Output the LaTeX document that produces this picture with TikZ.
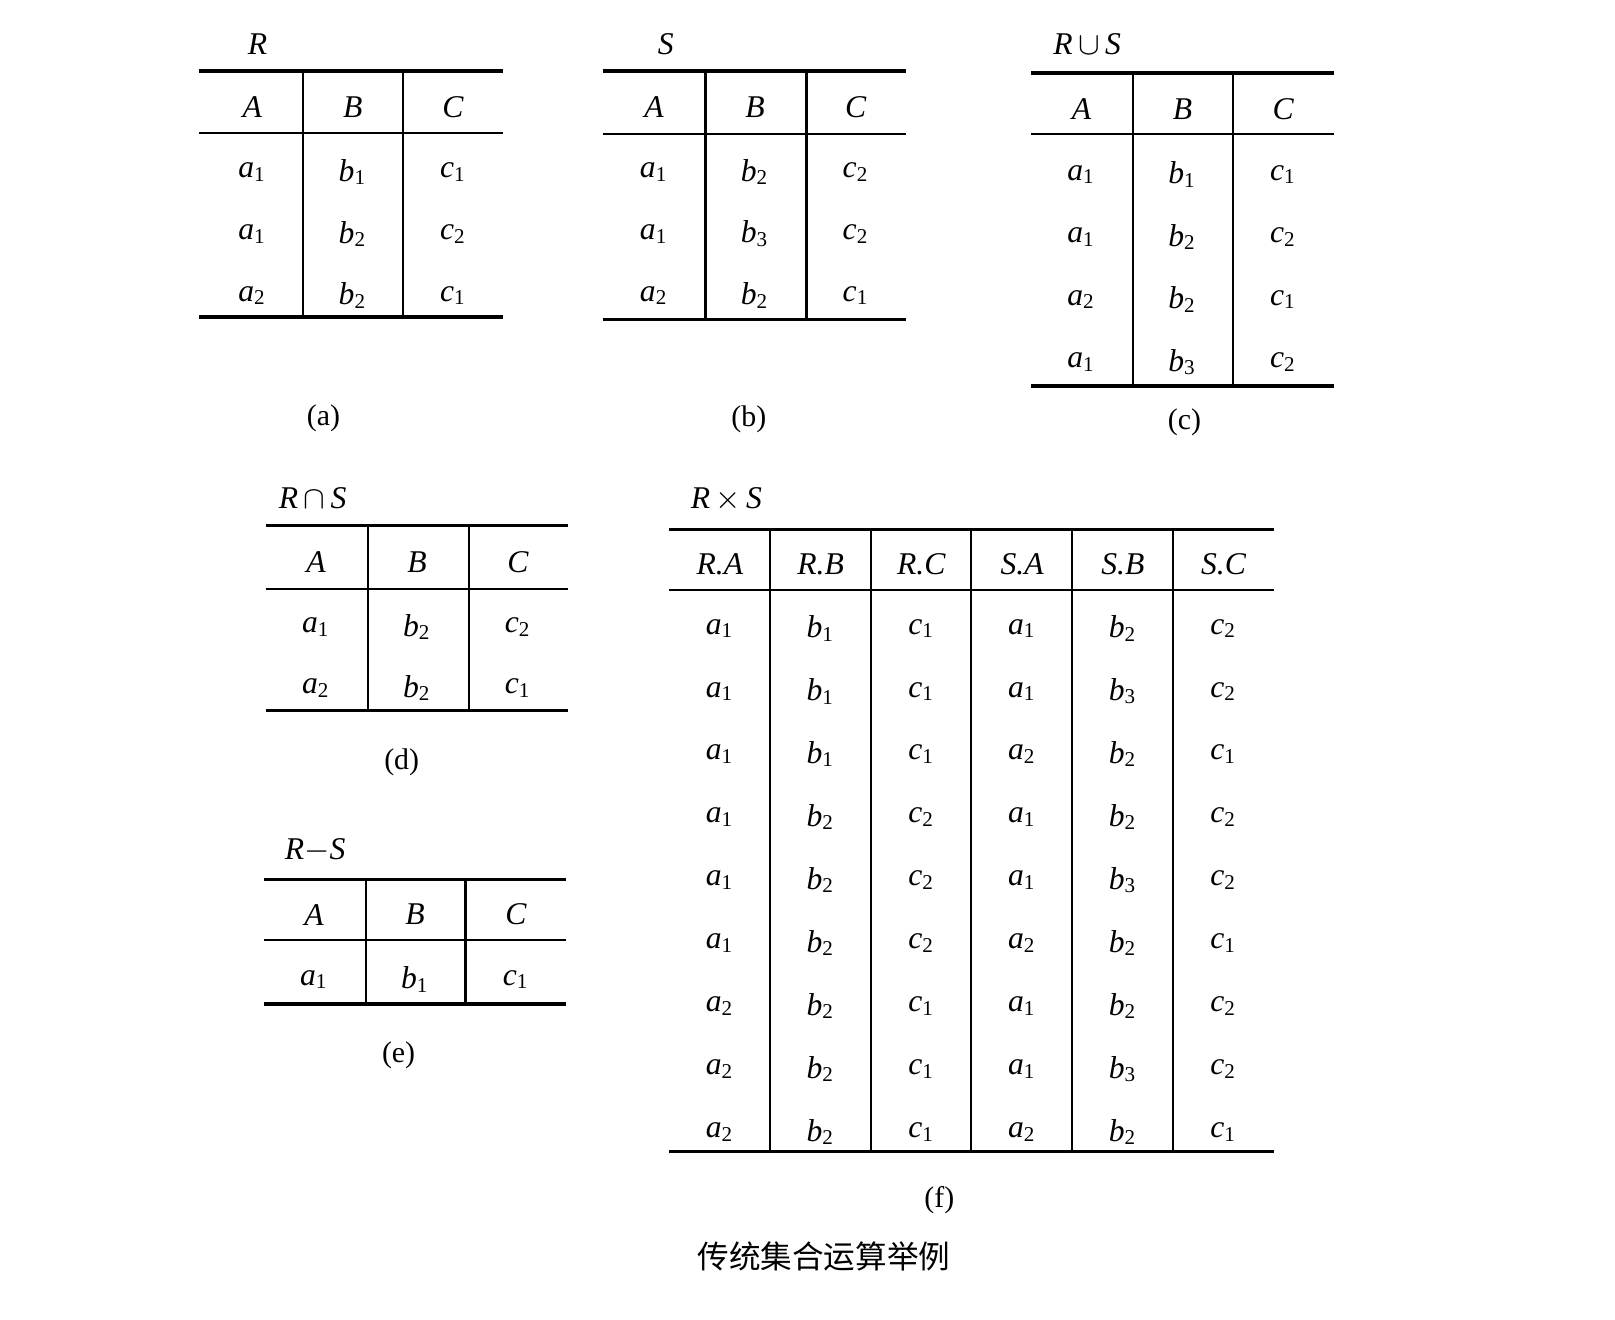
\documentclass[tikz,border=0pt]{standalone}
\usepackage{fontspec}
\setmainfont{Liberation Serif}
\newfontfamily\cjk{Noto Sans CJK SC}
\newcommand\va[2]{\textit{#1}\textsubscript{#2}}
\tikzset{
  rule/.style={line width=1pt},
  midrule/.style={line width=0.6pt},
  colrule/.style={line width=0.6pt},
  cell/.style={font=\fontsize{9}{10}\selectfont, inner sep=0pt},
  ttl/.style={font=\fontsize{9}{10}\selectfont\itshape, anchor=west, inner sep=0pt},
  capt/.style={font=\fontsize{8.5}{10}\selectfont, inner sep=0pt}
}

\begin{document}
\begin{tikzpicture}[x=0.0103cm,y=-0.0103cm]
\useasboundingbox (0,0) rectangle (1568,1281);

% (a) R
\node[ttl] (Rt) at (240,43) {R};
\draw[rule] (193,69) -- (488,69);
\draw[midrule] (193,129) -- (488,129);
\draw[rule] (193,308) -- (488,308);
\foreach \x in {294,391} \draw[colrule] (\x,69) -- (\x,308);
\path (245,104) node[cell] (R-h1) {\textit{A}}
  ++(97.5,0) node[cell] (R-h2) {\textit{B}}
  ++(97.5,0) node[cell] (R-h3) {\textit{C}};
\foreach \a/\b/\c [count=\j] in {1/1/1, 1/2/2, 2/2/1}
  \path (245,{107+60*\j}) node[cell] (R-\j-1) {\va{a}{\a}}
    ++(97.5,0) node[cell] (R-\j-2) {\va{b}{\b}}
    ++(97.5,0) node[cell] (R-\j-3) {\va{c}{\c}};
\node[capt] (Ra) at (314,406) {(a)};

% (b) S
\node[ttl] (St) at (638,43) {S};
\draw[rule] (585,69) -- (880,69);
\draw[midrule] (585,130) -- (880,130);
\draw[rule] (585,310) -- (880,310);
\foreach \x in {685,783} \draw[colrule] (\x,69) -- (\x,310);
\path (635,104) node[cell] (S-h1) {\textit{A}}
  ++(98,0) node[cell] (S-h2) {\textit{B}}
  ++(98,0) node[cell] (S-h3) {\textit{C}};
\foreach \a/\b/\c [count=\j] in {1/2/2, 1/3/2, 2/2/1}
  \path (635,{107+60*\j}) node[cell] (S-\j-1) {\va{a}{\a}}
    ++(98,0) node[cell] (S-\j-2) {\va{b}{\b}}
    ++(98,0) node[cell] (S-\j-3) {\va{c}{\c}};
\node[capt] (Sb) at (727,407) {(b)};

% (c) R union S
\node[ttl] (Ut) at (1022,43) {R$\,\cup\,$S};
\draw[rule] (1001,71) -- (1295,71);
\draw[midrule] (1001,130) -- (1295,130);
\draw[rule] (1001,375) -- (1295,375);
\foreach \x in {1100,1197} \draw[colrule] (\x,71) -- (\x,375);
\path (1050,106) node[cell] (U-h1) {\textit{A}}
  ++(98,0) node[cell] (U-h2) {\textit{B}}
  ++(98,0) node[cell] (U-h3) {\textit{C}};
\foreach \a/\b/\c [count=\j] in {1/1/1, 1/2/2, 2/2/1, 1/3/2}
  \path (1050,{108.5+60.8*\j}) node[cell] (U-\j-1) {\va{a}{\a}}
    ++(98,0) node[cell] (U-\j-2) {\va{b}{\b}}
    ++(98,0) node[cell] (U-\j-3) {\va{c}{\c}};
\node[capt] (Uc) at (1150,410) {(c)};

% (d) R intersection S
\node[ttl] (It) at (270,484) {R$\,\cap\,$S};
\draw[rule] (258,510) -- (551,510);
\draw[midrule] (258,572) -- (551,572);
\draw[rule] (258,690) -- (551,690);
\foreach \x in {357,455} \draw[colrule] (\x,510) -- (\x,690);
\path (307,546) node[cell] (I-h1) {\textit{A}}
  ++(98,0) node[cell] (I-h2) {\textit{B}}
  ++(98,0) node[cell] (I-h3) {\textit{C}};
\foreach \a/\b/\c [count=\j] in {1/2/2, 2/2/1}
  \path (307,{550+59*\j}) node[cell] (I-\j-1) {\va{a}{\a}}
    ++(98,0) node[cell] (I-\j-2) {\va{b}{\b}}
    ++(98,0) node[cell] (I-\j-3) {\va{c}{\c}};
\node[capt] (Id) at (390,740) {(d)};

% (e) R minus S
\node[ttl] (Dt) at (276,826) {R$-$S};
\draw[rule] (256,854) -- (550,854);
\draw[midrule] (256,913) -- (550,913);
\draw[rule] (256,975) -- (550,975);
\foreach \x in {355,452} \draw[colrule] (\x,854) -- (\x,975);
\path (305,888) node[cell] (D-h1) {\textit{A}}
  ++(98,0) node[cell] (D-h2) {\textit{B}}
  ++(98,0) node[cell] (D-h3) {\textit{C}};
\path (305,951) node[cell] (D-1-1) {\va{a}{1}}
  ++(98,0) node[cell] (D-1-2) {\va{b}{1}}
  ++(98,0) node[cell] (D-1-3) {\va{c}{1}};
\node[capt] (De) at (387,1025) {(e)};

% (f) R times S
\node[ttl] (Pt) at (670,485) {R$\,\times\,$S};
\draw[rule] (650,514) -- (1237,514);
\draw[midrule] (650,573) -- (1237,573);
\draw[rule] (650,1118) -- (1237,1118);
\foreach \x in {748,846,943,1041,1139} \draw[colrule] (\x,514) -- (\x,1118);
\path (699,548) node[cell] (P-h1) {\textit{R.A}}
  ++(97.8,0) node[cell] (P-h2) {\textit{R.B}}
  ++(97.8,0) node[cell] (P-h3) {\textit{R.C}}
  ++(97.8,0) node[cell] (P-h4) {\textit{S.A}}
  ++(97.8,0) node[cell] (P-h5) {\textit{S.B}}
  ++(97.8,0) node[cell] (P-h6) {\textit{S.C}};
\foreach \ra/\rb/\rc/\sa/\sb/\sc [count=\j] in
  {1/1/1/1/2/2, 1/1/1/1/3/2, 1/1/1/2/2/1,
   1/2/2/1/2/2, 1/2/2/1/3/2, 1/2/2/2/2/1,
   2/2/1/1/2/2, 2/2/1/1/3/2, 2/2/1/2/2/1}
  \path (699,{549+61.1*\j}) node[cell] (P-\j-1) {\va{a}{\ra}}
    ++(97.8,0) node[cell] (P-\j-2) {\va{b}{\rb}}
    ++(97.8,0) node[cell] (P-\j-3) {\va{c}{\rc}}
    ++(97.8,0) node[cell] (P-\j-4) {\va{a}{\sa}}
    ++(97.8,0) node[cell] (P-\j-5) {\va{b}{\sb}}
    ++(97.8,0) node[cell] (P-\j-6) {\va{c}{\sc}};
\node[capt] (Pf) at (912,1165) {(f)};

% caption
\node[font=\cjk\fontsize{9}{10}\selectfont, inner sep=0pt] (cap) at (800,1220) {传统集合运算举例};
\end{tikzpicture}
\end{document}
